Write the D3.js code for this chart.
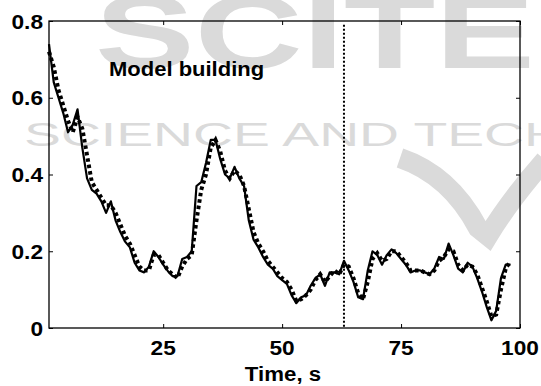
<!DOCTYPE html>
<html>
<head>
<meta charset="utf-8">
<script src="https://cdn.jsdelivr.net/npm/d3@7"></script>
<style>
  body { margin: 0; background: #fff; }
  svg { display: block; font-family: "Liberation Sans", Arial, sans-serif; font-weight: bold; }
</style>
</head>
<body>
<svg id="chart" width="541" height="386"></svg>
<script>
// time in seconds, one sample per second
let time = d3.range(1, 99);

// measured signal (solid line)
let measured = [0.74, 0.64, 0.60, 0.56, 0.51, 0.53, 0.57, 0.47, 0.39, 0.36,
  0.35, 0.33, 0.30, 0.33, 0.28, 0.25, 0.225, 0.21, 0.17, 0.15,
  0.145, 0.16, 0.20, 0.185, 0.165, 0.148, 0.135, 0.135, 0.18, 0.185,
  0.20, 0.37, 0.38, 0.43, 0.49, 0.49, 0.44, 0.40, 0.39, 0.42,
  0.39, 0.37, 0.28, 0.23, 0.21, 0.185, 0.165, 0.155, 0.135, 0.125,
  0.115, 0.085, 0.065, 0.08, 0.085, 0.11, 0.13, 0.14, 0.11, 0.145,
  0.145, 0.14, 0.175, 0.15, 0.12, 0.08, 0.075, 0.15, 0.20, 0.19,
  0.165, 0.19, 0.205, 0.195, 0.18, 0.165, 0.145, 0.15, 0.15, 0.145,
  0.14, 0.155, 0.185, 0.18, 0.22, 0.19, 0.155, 0.145, 0.17, 0.16,
  0.13, 0.095, 0.055, 0.02, 0.045, 0.13, 0.165, 0.165];

// model output (thick dotted line)
let model = [0.72, 0.68, 0.62, 0.58, 0.54, 0.51, 0.55, 0.52, 0.45, 0.38,
  0.36, 0.34, 0.32, 0.32, 0.30, 0.27, 0.24, 0.22, 0.19, 0.16,
  0.15, 0.15, 0.19, 0.19, 0.17, 0.15, 0.14, 0.13, 0.16, 0.18,
  0.19, 0.28, 0.36, 0.40, 0.47, 0.49, 0.46, 0.41, 0.39, 0.41,
  0.40, 0.37, 0.31, 0.25, 0.22, 0.20, 0.175, 0.16, 0.145, 0.13,
  0.12, 0.10, 0.07, 0.075, 0.085, 0.10, 0.125, 0.14, 0.12, 0.135,
  0.15, 0.14, 0.165, 0.16, 0.13, 0.09, 0.075, 0.12, 0.18, 0.195,
  0.175, 0.18, 0.20, 0.20, 0.185, 0.17, 0.15, 0.15, 0.15, 0.145,
  0.14, 0.15, 0.175, 0.185, 0.205, 0.20, 0.165, 0.15, 0.165, 0.16,
  0.14, 0.105, 0.07, 0.03, 0.035, 0.10, 0.155, 0.175];

let xTicks = [25, 50, 75, 100];
let yTicks = [0, 0.2, 0.4, 0.6, 0.8];
let splitTime = 63;   // end of the model building part
let note = "Model building";
let xTitle = "Time, s";

let svg = d3.select("#chart");
let plotLeft = 49, plotRight = 520, plotTop = 21, plotBottom = 328;

let x = d3.scaleLinear().domain([1, 100]).range([plotLeft, plotRight]);
let y = d3.scaleLinear().domain([0, 0.8]).range([plotBottom, plotTop]);

// watermark of the source page, drawn behind everything
let wm = svg.append("g").attr("fill", "#dadada");
wm.append("text").attr("x", 95).attr("y", 68)
  .attr("textLength", 440).attr("lengthAdjust", "spacingAndGlyphs")
  .style("font-size", "104px").text("SCITE");
wm.append("text").attr("x", 24).attr("y", 146)
  .attr("textLength", 540).attr("lengthAdjust", "spacingAndGlyphs")
  .style("font-size", "34px").style("font-weight", "normal")
  .text("SCIENCE AND TECH");
wm.append("path")
  .attr("d", "M400,158 Q450,175 478,228 L488,236 Q510,200 545,160")
  .attr("fill", "none").attr("stroke", "#dadada").attr("stroke-width", 20);

// axes box with inward ticks (all four sides)
let axisStyle = function (g) {
  g.select(".domain").remove();
  g.selectAll(".tick line").attr("stroke", "#000").attr("stroke-width", 1);
  g.selectAll("text").remove();
};
svg.append("g").attr("transform", "translate(0," + plotBottom + ")")
  .call(d3.axisBottom(x).tickValues(xTicks).tickSize(-4)).call(axisStyle);
svg.append("g").attr("transform", "translate(0," + plotTop + ")")
  .call(d3.axisTop(x).tickValues(xTicks).tickSize(-4)).call(axisStyle);
svg.append("g").attr("transform", "translate(" + plotLeft + ",0)")
  .call(d3.axisLeft(y).tickValues(yTicks).tickSize(-4)).call(axisStyle);
svg.append("g").attr("transform", "translate(" + plotRight + ",0)")
  .call(d3.axisRight(y).tickValues(yTicks).tickSize(-4)).call(axisStyle);

svg.append("rect")
  .attr("x", plotLeft).attr("y", plotTop)
  .attr("width", plotRight - plotLeft).attr("height", plotBottom - plotTop)
  .attr("fill", "none").attr("stroke", "#000").attr("stroke-width", 1.3);

// tick labels
svg.selectAll(".ylab").data(yTicks).enter().append("text")
  .attr("class", "ylab")
  .attr("transform", d => "translate(43," + (y(d) + 7.5) + ") scale(1.08,1)")
  .attr("text-anchor", "end").style("font-size", "21px")
  .text(d => d);

svg.selectAll(".xlab").data(xTicks).enter().append("text")
  .attr("class", "xlab")
  .attr("transform", d => "translate(" + x(d) + ",355) scale(1.08,1)")
  .attr("text-anchor", "middle").style("font-size", "21px")
  .text(d => d);

svg.append("text")
  .attr("transform", "translate(283,381) scale(1.06,1)")
  .attr("text-anchor", "middle").style("font-size", "21px")
  .text(xTitle);

svg.append("text")
  .attr("transform", "translate(109,76) scale(1.1,1)")
  .style("font-size", "20px")
  .text(note);

// split marker
svg.append("line")
  .attr("x1", x(splitTime)).attr("x2", x(splitTime))
  .attr("y1", y(0.79)).attr("y2", plotBottom)
  .attr("stroke", "#000").attr("stroke-width", 2)
  .attr("stroke-dasharray", "2,2");

// series
let line = d3.line().x(d => x(d[0])).y(d => y(d[1]));

svg.append("path")
  .datum(time.map((t, i) => [t, measured[i]]))
  .attr("d", line)
  .attr("fill", "none").attr("stroke", "#000").attr("stroke-width", 2.2)
  .attr("stroke-linejoin", "round");

svg.append("path")
  .datum(time.map((t, i) => [t, model[i]]))
  .attr("d", line)
  .attr("fill", "none").attr("stroke", "#000").attr("stroke-width", 4)
  .attr("stroke-dasharray", "3.5,3");
</script>
</body>
</html>
